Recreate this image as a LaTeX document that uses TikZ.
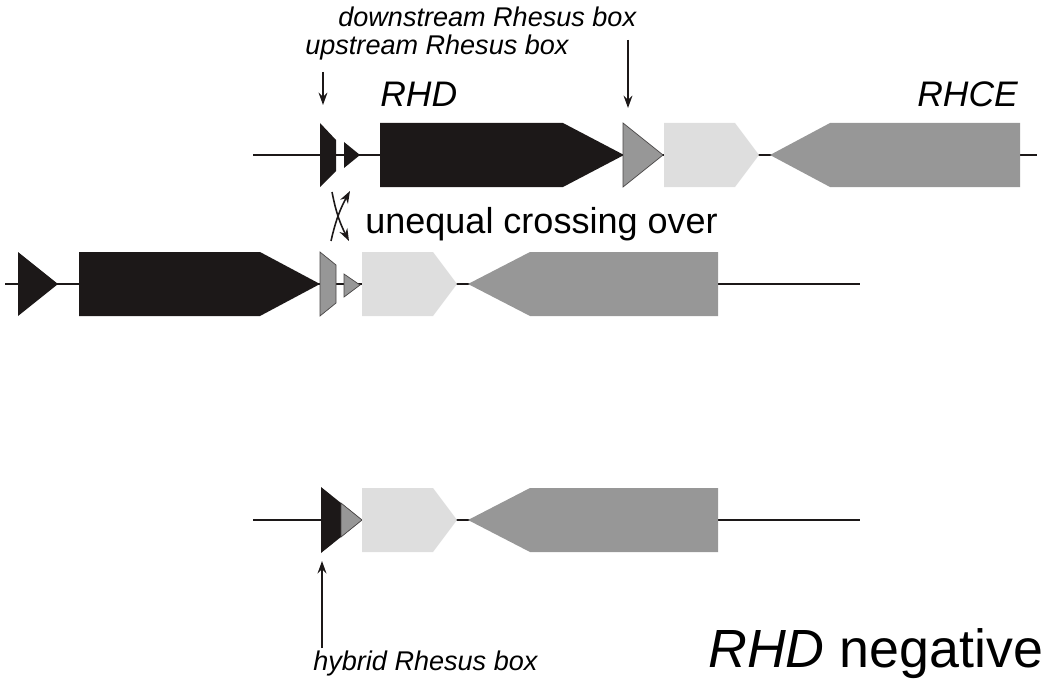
\documentclass[tikz,border=0pt]{standalone}
\usepackage{fontspec}
\setmainfont{Liberation Sans}
\usetikzlibrary{arrows.meta}
\definecolor{genedark}{HTML}{1C1818}
\definecolor{genemid}{HTML}{979797}
\definecolor{genelight}{HTML}{DEDEDE}

\begin{document}
\begin{tikzpicture}[x=0.02cm, y=-0.02cm,
  dna/.style={line width=1.1pt, color=genedark},
  darkbox/.style={fill=genedark},
  midbox/.style={fill=genemid},
  midtri/.style={fill=genemid, draw=genedark!80, line width=0.4pt},
  lightbox/.style={fill=genelight},
  pointer/.style={line width=1.1pt, color=genedark, -{Stealth[length=7pt, width=5pt]}},
  boxlabel/.style={anchor=base west, inner sep=0pt, font=\fontsize{15.4}{18}\selectfont\itshape},
  genelabel/.style={anchor=base west, inner sep=0pt, font=\fontsize{20.2}{24}\selectfont\itshape}]

  \useasboundingbox (0,0) rectangle (1050,689);

  % First row: RHD and RHCE
  \draw[dna] (253,155) -- (1037,155);
  \fill[darkbox] (320,123) -- (336,140) -- (336,171) -- (320,187) -- cycle;
  \fill[darkbox] (344,142) -- (360,155) -- (344,168) -- cycle;
  \fill[darkbox] (380,123) -- (563,123) -- (624,155) -- (563,187) -- (380,187) -- cycle;
  \filldraw[midtri] (623,123) -- (663,155) -- (623,187) -- cycle;
  \fill[lightbox] (664,123) -- (735,123) -- (759,155) -- (735,187) -- (664,187) -- cycle;
  \fill[midbox] (770,155) -- (830,123) -- (1020,123) -- (1020,187) -- (830,187) -- cycle;

  % Second row: shifted copy
  \draw[dna] (5,284) -- (860,284);
  \fill[darkbox] (18,252) -- (58,284) -- (18,316) -- cycle;
  \fill[darkbox] (79,252) -- (260,252) -- (320,284) -- (260,316) -- (79,316) -- cycle;
  \filldraw[midtri] (320,252) -- (336,265) -- (336,303) -- (320,316) -- cycle;
  \filldraw[midtri] (344,274) -- (360,285) -- (344,297) -- cycle;
  \fill[lightbox] (362,252) -- (433,252) -- (457,284) -- (433,316) -- (362,316) -- cycle;
  \fill[midbox] (468,284) -- (530,252) -- (718,252) -- (718,316) -- (530,316) -- cycle;

  % Third row: RHD deleted
  \draw[dna] (253,520) -- (860,520);
  \fill[darkbox] (321,487) -- (362,520) -- (321,553) -- cycle;
  \filldraw[midtri] (341,503) -- (362,520) -- (341,537) -- cycle;
  \fill[lightbox] (362,488) -- (433,488) -- (457,520) -- (433,552) -- (362,552) -- cycle;
  \fill[midbox] (468,520) -- (530,488) -- (718,488) -- (718,552) -- (530,552) -- cycle;

  % Labels
  \node[boxlabel] (dslbl) at (338,27) {downstream Rhesus box};
  \node[boxlabel] (uslbl) at (305,55) {upstream Rhesus box};
  \node[genelabel] (rhd) at (380,107) {RHD};
  \node[genelabel] (rhce) at (917,107) {RHCE};
  \node[anchor=base west, inner sep=0pt, font=\fontsize{20.5}{24}\selectfont] (ucross) at (365,233) {unequal crossing over};
  \node[boxlabel] (hylbl) at (313,670) {hybrid Rhesus box};
  \node[anchor=base west, inner sep=0pt, font=\fontsize{30.6}{36}\selectfont] (neg) at (708,667) {\textit{RHD} negative};

  % Pointer arrows
  \coordinate (usfrom) at (323,72);
  \coordinate (usto) at (323,105);
  \coordinate (dsfrom) at (628,40);
  \coordinate (dsto) at (628,108);
  \coordinate (hyfrom) at (322,648);
  \coordinate (hyto) at (322,561);
  \draw[pointer] (usfrom) -- (usto);
  \draw[pointer] (dsfrom) -- (dsto);
  \draw[pointer] (hyfrom) -- (hyto);

  % crossing arrows
  \coordinate (x1) at (331,241);
  \coordinate (x2) at (350,191);
  \coordinate (x3) at (332,192);
  \coordinate (x4) at (349,241);
  \draw[pointer, line width=0.9pt] (x1) to[bend left=8] (x2);
  \draw[pointer, line width=0.9pt] (x3) to[bend right=8] (x4);

\end{tikzpicture}
\end{document}
